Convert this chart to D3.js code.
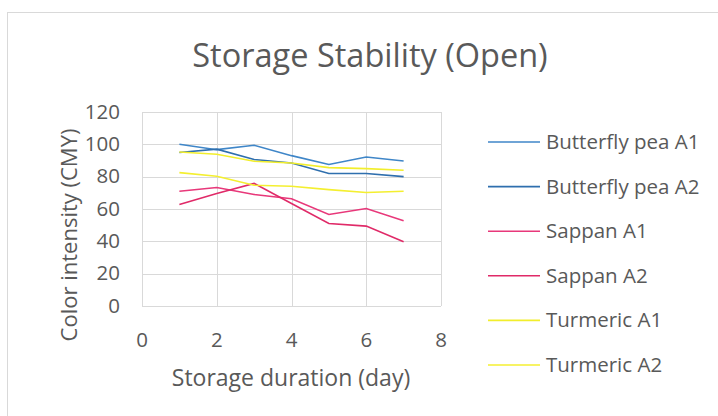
<!DOCTYPE html>
<html>
<head>
<meta charset="utf-8">
<script src="https://cdn.jsdelivr.net/npm/d3@7"></script>
<style>
  body { margin: 0; background: #fff; }
  text { font-family: "Open Sans", sans-serif; fill: #595959; }
</style>
</head>
<body>
<script>
const days = [1, 2, 3, 4, 5, 6, 7];
const seriesNames = ['Butterfly pea A1', 'Butterfly pea A2', 'Sappan A1', 'Sappan A2', 'Turmeric A1', 'Turmeric A2'];
const butterflyA1 = [100, 96.7, 99.4, 93, 87.5, 92.2, 89.7];
const butterflyA2 = [94.9, 97, 90.6, 88.5, 82, 82, 80];
const sappanA1 = [71, 73.3, 69, 66.3, 56.6, 60.3, 52.7];
const sappanA2 = [62.8, 69.6, 75.8, 63.4, 51, 49.4, 39.7];
const turmericA1 = [95.3, 93.9, 89.5, 88.5, 85.6, 85, 84];
const turmericA2 = [82.5, 80.3, 74.7, 74.1, 72, 70.2, 71];
const colors = ['#3f86c8', '#2f6fae', '#e8387a', '#e02a68', '#f2ee2c', '#f4ef30'];
const xTicks = [0, 2, 4, 6, 8];
const yTicks = [0, 20, 40, 60, 80, 100, 120];

const allSeries = [butterflyA1, butterflyA2, sappanA1, sappanA2, turmericA1, turmericA2];

const width = 718, height = 416;
const svg = d3.select("body").append("svg")
    .attr("width", width)
    .attr("height", height);

// chart frame
svg.append("rect")
    .attr("x", 7.5).attr("y", 12.5)
    .attr("width", 740).attr("height", 430)
    .attr("fill", "#fff")
    .attr("stroke", "#d9d9d9");

const x = d3.scaleLinear().domain([0, 8]).range([142, 441]);
const y = d3.scaleLinear().domain([0, 120]).range([306, 112]);

// gridlines
svg.append("g").selectAll("line")
    .data(yTicks).enter().append("line")
    .attr("x1", x(0)).attr("x2", x(8))
    .attr("y1", d => Math.round(y(d)) + 0.5).attr("y2", d => Math.round(y(d)) + 0.5)
    .attr("stroke", "#d9d9d9").attr("stroke-width", 1);

svg.append("g").selectAll("line")
    .data(xTicks).enter().append("line")
    .attr("y1", y(0)).attr("y2", y(120))
    .attr("x1", d => Math.round(x(d)) + 0.5).attr("x2", d => Math.round(x(d)) + 0.5)
    .attr("stroke", "#d9d9d9").attr("stroke-width", 1);

// tick labels
svg.append("g").selectAll("text")
    .data(yTicks).enter().append("text")
    .attr("x", 120)
    .attr("y", d => y(d) + 6.5)
    .attr("text-anchor", "end")
    .style("font-size", "20.5px")
    .text(d => d);

svg.append("g").selectAll("text")
    .data(xTicks).enter().append("text")
    .attr("x", d => x(d))
    .attr("y", 347)
    .attr("text-anchor", "middle")
    .style("font-size", "20.5px")
    .text(d => d);

// lines
const line = d3.line()
    .x((d, i) => x(days[i]))
    .y(d => y(d));

svg.append("g").selectAll("path")
    .data(allSeries).enter().append("path")
    .attr("d", line)
    .attr("fill", "none")
    .attr("stroke", (d, i) => colors[i])
    .attr("stroke-width", 1.6);

// titles
svg.append("text")
    .attr("x", 370).attr("y", 67)
    .attr("text-anchor", "middle")
    .style("font-size", "32.5px")
    .text("Storage Stability (Open)");

svg.append("text")
    .attr("x", 291).attr("y", 386)
    .attr("text-anchor", "middle")
    .style("font-size", "23px")
    .text("Storage duration (day)");

svg.append("text")
    .attr("transform", "translate(77,235) rotate(-90)")
    .attr("text-anchor", "middle")
    .style("font-size", "22px")
    .text("Color intensity (CMY)");

// legend
const legend = svg.append("g");
const rows = legend.selectAll("g")
    .data(seriesNames).enter().append("g")
    .attr("transform", (d, i) => "translate(488," + (142 + i * 44.6) + ")");

rows.append("line")
    .attr("x1", 0).attr("x2", 52)
    .attr("stroke", (d, i) => colors[i])
    .attr("stroke-width", 1.6);

rows.append("text")
    .attr("x", 58).attr("y", 7)
    .style("font-size", "20.5px")
    .text(d => d);
</script>
</body>
</html>
